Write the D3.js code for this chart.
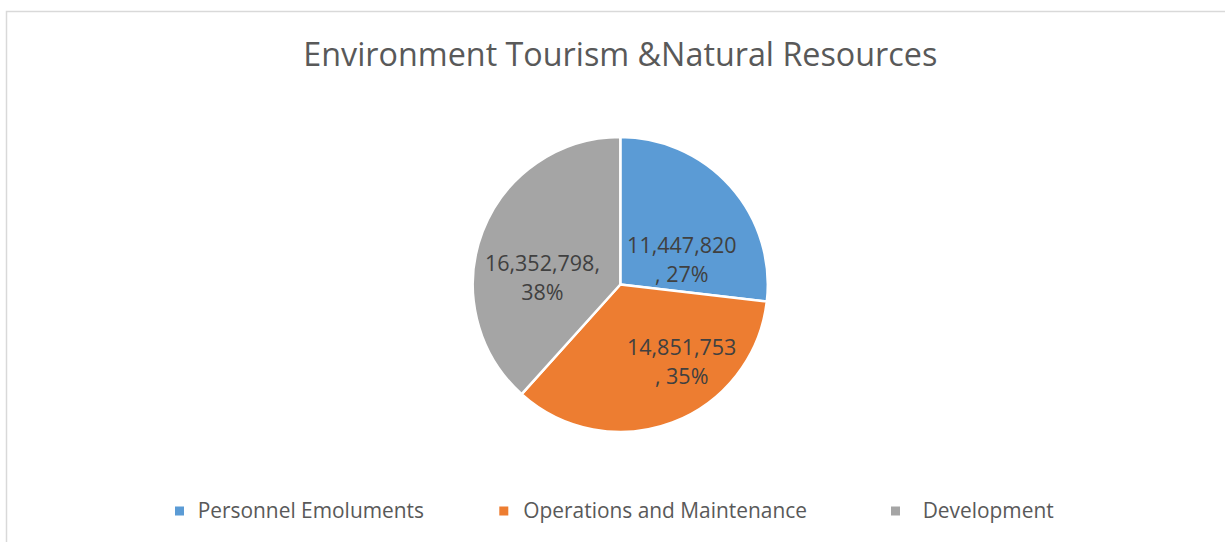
<!DOCTYPE html>
<html>
<head>
<meta charset="utf-8">
<script src="https://cdn.jsdelivr.net/npm/d3@7"></script>
<style>
  html, body { margin: 0; padding: 0; background: #ffffff; }
  svg { display: block; }
  text { font-family: "Open Sans", "Noto Sans", sans-serif; }
</style>
</head>
<body>
<svg id="chart" width="1225" height="542"></svg>
<script>
// Budget allocation by expenditure type
const chartTitle = "Environment Tourism &Natural Resources";
const categories = ["Personnel Emoluments", "Operations and Maintenance", "Development"];
const values = [11447820, 14851753, 16352798];
const colors = ["#5b9bd5", "#ed7d31", "#a5a5a5"];

// Where each data label sits (degrees clockwise from 12 o'clock, fraction of radius)
// and where its text wraps (after the value, or after the value's trailing comma)
const labelAngles = [68, 141.6, 275];
const labelRadii = [0.45, 0.67, 0.53];
const labelWrapAfterComma = [false, false, true];

// Legend marker and text left edges
const legendMarkerX = [175, 499.3, 891];
const legendTextX = [197.7, 523.3, 922.7];

const W = 1225, H = 542;
const cx = 620.3, cy = 284.5, R = 147.5;

const svg = d3.select("#chart");

// Chart area frame (top and left edges visible)
svg.append("rect")
  .attr("x", 6.5).attr("y", 11.5)
  .attr("width", W + 20).attr("height", H + 20)
  .attr("fill", "#ffffff")
  .attr("stroke", "#d9d9d9")
  .attr("stroke-width", 1.5);

// Title
svg.append("text")
  .attr("x", cx).attr("y", 66)
  .attr("text-anchor", "middle")
  .attr("font-size", 32.3)
  .attr("fill", "#595959")
  .text(chartTitle);

const total = d3.sum(values);
const pie = d3.pie().sort(null).value(d => d)(values);
const arc = d3.arc().innerRadius(0).outerRadius(R);

const g = svg.append("g").attr("transform", `translate(${cx},${cy})`);

g.selectAll("path.slice")
  .data(pie)
  .join("path")
  .attr("class", "slice")
  .attr("d", arc)
  .attr("fill", (d, i) => colors[i])
  .attr("stroke", "#ffffff")
  .attr("stroke-width", 2.5)
  .attr("stroke-linejoin", "round");

// Data labels: value and share of total
const fmt = d3.format(",");
const pct = d3.format(".0%");
const lineGap = 28.5;
const labelSize = 21.5;

pie.forEach((d, i) => {
  const v = fmt(d.value);
  const p = pct(d.value / total);
  const lines = labelWrapAfterComma[i] ? [v + ",", p] : [v, ", " + p];
  const [lx, ly] = d3.pointRadial(labelAngles[i] * Math.PI / 180, labelRadii[i] * R);
  // block vertically centred on the anchor point (cap height ~0.714em)
  const firstBaseline = ly - lineGap / 2 + labelSize * 0.714 / 2;
  const t = g.append("text")
    .attr("text-anchor", "middle")
    .attr("font-size", labelSize)
    .attr("fill", "#404040");
  lines.forEach((ln, k) => {
    t.append("tspan")
      .attr("x", lx)
      .attr("y", firstBaseline + k * lineGap)
      .text(ln);
  });
});

// Legend
const legend = svg.append("g").attr("transform", "translate(0,511)");
categories.forEach((c, i) => {
  legend.append("rect")
    .attr("x", legendMarkerX[i]).attr("y", -4.5)
    .attr("width", 9).attr("height", 9)
    .attr("fill", colors[i]);
  legend.append("text")
    .attr("x", legendTextX[i]).attr("y", 6.5)
    .attr("font-size", 20.9)
    .attr("fill", "#595959")
    .text(c);
});
</script>
</body>
</html>
